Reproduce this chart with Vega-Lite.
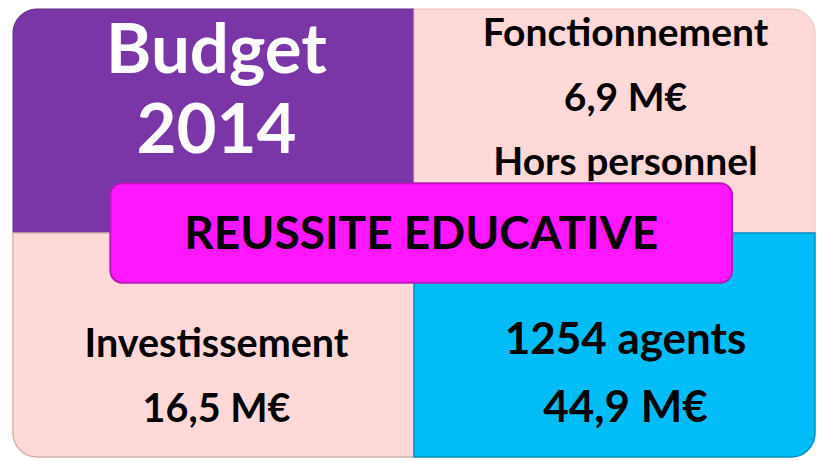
{
  "$schema": "https://vega.github.io/schema/vega-lite/v6.json",
  "width": 820,
  "height": 461,
  "autosize": {"type": "fit", "contains": "padding"},
  "padding": {"left": 12, "top": 8, "right": 4, "bottom": 3},
  "background": "white",
  "config": {"view": {"stroke": null}, "text": {"font": "Lato", "fontWeight": "bold"}},
  "datasets": {
    "quadrants": [
      {"quadrant": "Budget", "col": "gauche", "row": "haut", "lignes": ["Budget", "2014"]},
      {"quadrant": "Fonctionnement", "col": "droite", "row": "haut", "lignes": ["Fonctionnement", "6,9 M€", "Hors personnel"]},
      {"quadrant": "Investissement", "col": "gauche", "row": "bas", "lignes": ["Investissement", "16,5 M€"]},
      {"quadrant": "Personnel", "col": "droite", "row": "bas", "lignes": ["1254 agents", "44,9 M€"]}
    ],
    "bandeau": [
      {"label": "REUSSITE EDUCATIVE"}
    ]
  },
  "layer": [
    {
      "data": {"name": "quadrants"},
      "encoding": {
        "x": {"field": "col", "type": "nominal", "axis": null, "scale": {"domain": ["gauche", "droite"], "paddingInner": 0, "paddingOuter": 0}},
        "y": {"field": "row", "type": "nominal", "axis": null, "scale": {"domain": ["haut", "bas"], "paddingInner": 0, "paddingOuter": 0}}
      },
      "layer": [
        {"transform": [{"filter": "datum.quadrant === 'Budget'"}], "mark": {"type": "rect", "fill": "#7a36a6", "cornerRadiusTopLeft": 24, "stroke": "#5f2a85", "strokeWidth": 1}},
        {"transform": [{"filter": "datum.quadrant === 'Fonctionnement'"}], "mark": {"type": "rect", "fill": "#ffd8d8", "cornerRadiusTopRight": 24, "stroke": "#e8bcbc", "strokeWidth": 1}},
        {"transform": [{"filter": "datum.quadrant === 'Investissement'"}], "mark": {"type": "rect", "fill": "#ffd8d8", "cornerRadiusBottomLeft": 24, "stroke": "#d8b0b0", "strokeWidth": 1.5}},
        {"transform": [{"filter": "datum.quadrant === 'Personnel'"}], "mark": {"type": "rect", "fill": "#00bdf7", "cornerRadiusBottomRight": 24, "stroke": "#0090c0", "strokeWidth": 1.5}},
        {"transform": [{"filter": "datum.quadrant === 'Budget'"}], "mark": {"type": "text", "color": "white", "fontSize": 69, "lineHeight": 80, "baseline": "middle", "dx": 3, "dy": -69}, "encoding": {"text": {"field": "lignes"}}},
        {"transform": [{"filter": "datum.quadrant === 'Fonctionnement'"}], "mark": {"type": "text", "color": "black", "fontSize": 39, "lineHeight": 64.5, "baseline": "middle", "dx": 11, "dy": -87}, "encoding": {"text": {"field": "lignes"}}},
        {"transform": [{"filter": "datum.quadrant === 'Investissement'"}], "mark": {"type": "text", "color": "black", "fontSize": 39.5, "lineHeight": 65, "baseline": "middle", "dx": 3, "dy": 0}, "encoding": {"text": {"field": "lignes"}}},
        {"transform": [{"filter": "datum.quadrant === 'Personnel'"}], "mark": {"type": "text", "color": "black", "fontSize": 44, "lineHeight": 68, "baseline": "middle", "dx": 11, "dy": -4}, "encoding": {"text": {"field": "lignes"}}}
      ]
    },
    {
      "data": {"name": "bandeau"},
      "encoding": {
        "x": {"field": "label", "type": "nominal", "axis": null, "scale": {"paddingInner": 0, "paddingOuter": 0.145, "align": 0.54}},
        "y": {"field": "label", "type": "nominal", "axis": null, "scale": {"paddingInner": 0, "paddingOuter": 1, "align": 0.5}}
      },
      "layer": [
        {"mark": {"type": "rect", "fill": "#ff17ff", "cornerRadius": 12, "stroke": "#b81ab8", "strokeWidth": 2, "height": {"band": 0.667}}},
        {"mark": {"type": "text", "color": "black", "fontSize": 46, "baseline": "middle", "dy": 2}, "encoding": {"text": {"field": "label"}}}
      ]
    }
  ],
  "resolve": {"scale": {"x": "independent", "y": "independent"}}
}
